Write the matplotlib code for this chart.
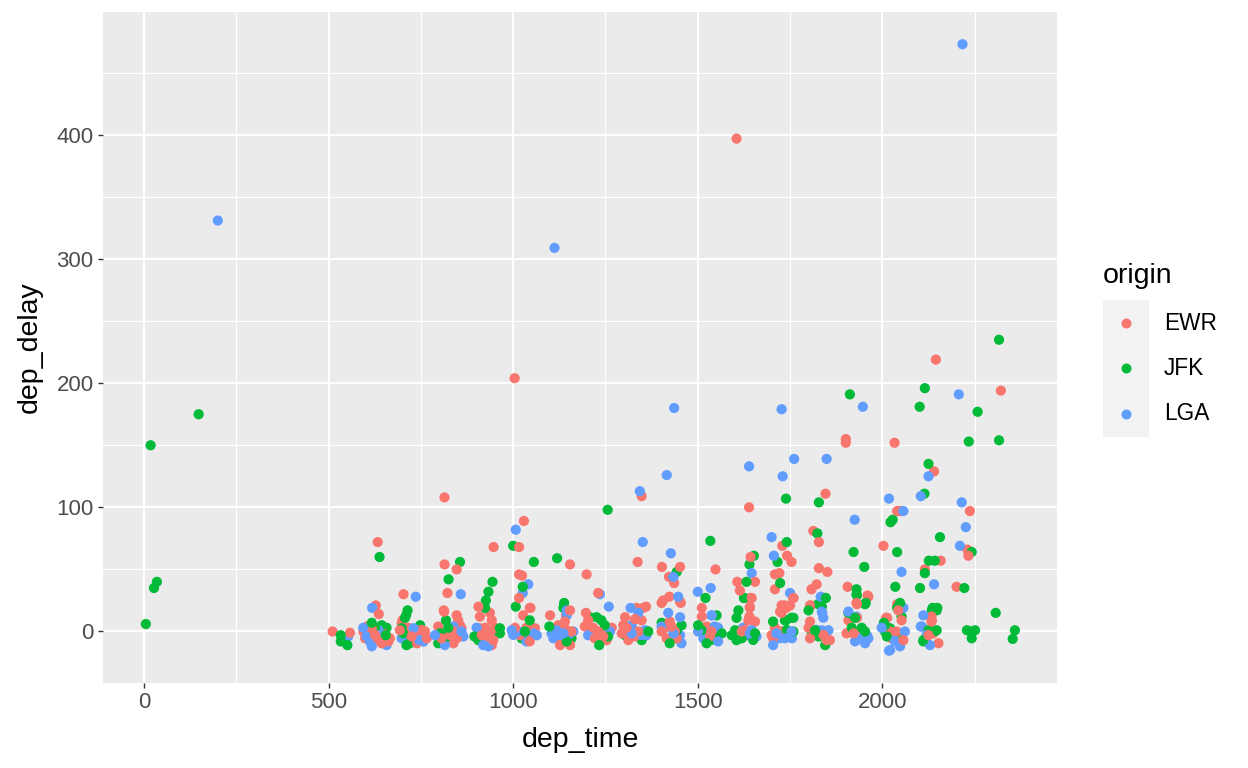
import matplotlib
matplotlib.use("Agg")
import matplotlib.pyplot as plt
from matplotlib.patches import Rectangle
from matplotlib.lines import Line2D

# ---------------- data (dep_time, dep_delay) ----------------
ewr_points = [
    (1605, 397), (2145, 219), (2321, 194), (1004, 204), (814, 108), (1901, 155), (1901, 152),
    (2033, 152), (2140, 129), (1348, 109), (1846, 111), (1639, 100), (2040, 97), (2048, 97),
    (2237, 97), (1029, 89), (1813, 81), (1828, 72), (1729, 69), (2003, 69), (1016, 68), (947, 68),
    (633, 72), (2230, 66), (2233, 61), (1742, 61), (1754, 56), (1643, 60), (1337, 56), (1154, 54),
    (814, 54), (2158, 57), (847, 50), (1548, 50), (1828, 51), (1851, 48), (1403, 52), (1452, 52),
    (1422, 44), (1436, 39), (1199, 46), (1016, 46), (1024, 45), (2115, 50), (1709, 46), (1721, 47),
    (1607, 40), (1614, 33), (1655, 40), (1709, 34), (1822, 38), (1808, 34), (1906, 36), (2201, 36),
    (822, 31), (1230, 31), (1960, 29), (1930, 23), (1759, 27), (1643, 27), (1016, 27), (703, 30),
    (628, 21), (636, 14), (906, 20), (910, 12), (937, 15), (942, 9), (1806, 21), (1641, 20),
    (1640, 12), (1727, 21), (1736, 21), (1723, 16), (1047, 19), (1100, 13), (1143, 13), (1197, 15),
    (1360, 20), (1334, 19), (1402, 23), (1423, 28), (1454, 23), (1511, 19), (1511, 12), (2040, 22),
    (2013, 11), (2043, 17), (2052, 9), (2010, 11), (2133, 12), (2133, 8), (812, 17), (847, 13),
    (851, 9), (700, 9),
    (511, 0), (558, -1),
    (603, 4), (608, -1.5), (626, -3), (648, -1.5), (599, -5.5), (635, -7), (644, -9.5), (666, -5.5),
    (594, 0), (617, 2.6), (662, -8),
    (698, 6.6), (693, 1), (716, 3), (734, 0), (725, -4), (748, -4), (761, 0), (766, -5.5), (739, -9.5),
    (752, 1.3), (707, -5.5),
    (813, 16), (856, 5), (797, 4), (838, 0), (847, -5.5), (838, -9.5), (806, -5.5), (829, -2.8), (860, 2.6),
    (924, 3), (915, -3), (937, -1.5), (928, -8), (946, -7), (951, 3), (910, 2.6), (928, -2.8), (942, -11),
    (1027, 13), (1045, 19), (1005, 3), (1036, 3), (1041, -5.5), (1045, -8), (1018, -3), (1059, 2.6),
    (1154, 17), (1140, 8), (1122, 5), (1131, -5.5), (1127, -11), (1154, -11), (1145, 1), (1158, 0),
    (1203, 9), (1194, 4), (1217, 3), (1230, 0), (1244, 1), (1257, -1.5), (1221, -5.5), (1253, -7), (1267, 3),
    (1244, -4),
    (1352, 19), (1303, 11.5), (1330, 10), (1348, 9), (1298, 5), (1307, 3), (1339, 0), (1312, -7), (1330, -4),
    (1316, -1.5), (1294, -1.5),
    (1406, 25), (1452, 24), (1424, 8), (1411, 3), (1429, 4), (1438, 0), (1416, -5.5), (1434, -4), (1402, 0),
    (1443, -5.5),
    (1524, 4), (1537, 0), (1533, -4), (1546, 0),
    (1646, 27), (1641, 19), (1637, 9), (1655, 8), (1619, 0), (1628, 1.3),
    (1740, 19), (1750, 21), (1727, 15), (1709, 3), (1700, -3), (1704, -5.5), (1759, 27), (1727, 0),
    (1804, 21), (1804, 8), (1800, 3), (1804, -5.5), (1849, -7), (1858, -7), (1840, -2.8),
    (1931, 22), (1962, 28), (1908, 9), (1931, 11), (1903, -1.5), (1940, -1.5), (1922, -1.5),
    (2021, 0), (2025, -5.5), (2057, -7), (2039, 0),
    (2134, 9), (2125, -3), (2152, -9.5), (2124, -2), (2138, -1.5),
]

jfk_points = [
    (5, 6), (18, 150), (27, 35), (35, 40), (148, 175),
    (2316, 235), (2115, 196), (1912, 191), (2101, 181), (2258, 177), (2234, 153), (2316, 154),
    (2125, 135), (1256, 98), (1739, 107), (1828, 104), (2114, 111), (2028, 90), (2022, 88),
    (2156, 76), (1534, 73), (1741, 72), (1824, 79), (1000, 69), (638, 60), (1056, 56), (1119, 59),
    (856, 56), (1716, 56), (1652, 61), (1640, 54), (1922, 64), (2040, 64), (2242, 64), (2126, 57),
    (2142, 57), (1951, 52), (1443, 48), (2115, 47), (825, 42), (944, 40), (933, 32), (926, 25),
    (924, 19), (1632, 40), (1723, 39), (1930, 34), (1930, 30), (2035, 36), (2102, 35), (2222, 35),
    (1026, 36), (1521, 27), (1625, 27), (1847, 27), (1826, 22), (1955, 23), (1138, 23), (2040, 19),
    (2136, 19), (2149, 19), (2307, 15), (2048, 23), (2052, 12), (2004, 7), (1754, 11), (1739, 9),
    (714, 17), (710, 13), (818, 9), (1007, 20),
    (533, -3), (533, -8), (551, -11),
    (617, 7), (644, 5), (657, 3), (655, -3), (626, 2.6),
    (707, 11), (748, 5), (702, -1.5), (720, -9.5), (752, -4), (711, -11), (698, 2.6),
    (802, -1.5), (824, 3), (820, -4), (797, -9.5), (833, -8.2),
    (895, -4), (964, -1.5), (906, -7), (964, 2.6),
    (1045, 9), (1023, -5.5), (1098, 4), (1032, 0),
    (1136, 19), (1158, -5.5), (1145, -8),
    (1208, 11.5), (1226, 11.5), (1239, 9), (1248, 5), (1239, -4), (1233, -11), (1257, -4),
    (1303, -3), (1348, -7), (1366, 0),
    (1402, 7), (1456, 5), (1424, -9.5), (1443, 1),
    (1551, 13), (1501, 5), (1510, 1), (1551, -3), (1524, -9.5), (1565, -1.5), (1537, -6.8),
    (1626, 27), (1610, 17), (1605, 11), (1601, 1), (1655, -1.5), (1619, -5.5), (1592, -3), (1605, -7),
    (1650, -6.8),
    (1736, 9), (1759, 11), (1704, 8), (1759, 0), (1741, 1.3),
    (1800, 17), (1845, 27), (1836, 20), (1818, 1), (1827, -4), (1845, -11), (1809, -1.5),
    (1931, 29), (1953, 22), (1908, 15), (1926, 11), (1917, 3), (1944, 3), (1953, 0),
    (2007, 5), (2007, 0), (2039, -1.5), (2012, -4), (2021, 2.6),
    (2134, 17), (2147, 17), (2125, 1), (2147, 1), (2111, -7), (2145, 0.6), (2111, -8),
    (2242, 0), (2229, 1), (2251, 1), (2242, -5.5), (2359, 1), (2353, -6),
]

lga_points = [
    (2217, 473), (200, 331), (1112, 309), (2207, 191), (1947, 181), (1436, 180), (1727, 179),
    (1761, 139), (1849, 139), (1639, 133), (1416, 126), (1730, 125), (2125, 125), (1343, 113),
    (2018, 107), (2104, 109), (2215, 104), (1925, 90), (1007, 82), (2057, 97), (2226, 84),
    (1700, 76), (2210, 69), (1351, 72), (1427, 63), (1706, 61), (2052, 48), (1646, 47), (1434, 44),
    (1041, 38), (2140, 38), (1026, 31), (1535, 35), (1750, 31), (1500, 32), (736, 28), (858, 30),
    (1235, 30), (1447, 28), (1833, 28), (618, 19), (1259, 20), (1318, 19), (1145, 17), (1837, 15),
    (1840, 11), (1538, 13), (2057, 19), (2111, 13), (1908, 16), (1930, 12), (2104, 4), (2129, -11),
    (2018, -15.5),
    (553, -4),
    (594, 3), (612, -8), (657, -11), (617, -12), (635, 1), (603, -4), (653, -5.5), (639, -2.8),
    (698, -5.5), (707, 0), (746, -7), (730, 2.6), (757, -8.2),
    (860, 0), (815, -11), (865, -4), (788, -3), (838, 4),
    (901, 3), (955, 0), (933, -12), (919, -11), (946, -4),
    (996, 1), (1014, 0), (1055, -1.5), (1064, -3), (1000, -2.8), (1036, -8),
    (1145, 13), (1117, 1), (1149, -3), (1163, 0), (1136, -1.5), (1104, -1.5), (1109, -5.5), (1127, -2.8),
    (1203, -3), (1262, 0), (1221, 0),
    (1339, 15), (1321, 5), (1357, 1), (1321, -1.5), (1361, -3), (1348, -2.8),
    (1420, 15), (1452, 11.5), (1452, -3), (1456, -9.5), (1434, -1.5), (1402, 4),
    (1537, 13), (1546, 4), (1555, 3), (1515, -5.5), (1555, -8), (1501, 0), (1528, -1.5),
    (1623, 3), (1646, 1), (1632, -3), (1659, -4), (1641, -1.5),
    (1722, -5.5), (1736, -5.5), (1704, -11), (1754, 0), (1755, -5.5), (1713, -1.5),
    (1836, 16), (1836, 1), (1854, 1), (1822, 1.3),
    (1958, -3), (1926, -8), (1953, -9.5), (1962, -5.5), (1940, -5.5),
    (1998, 3), (2061, 0), (2048, -12), (2021, -15), (2034, -8), (2030, -4),
    (2107, 4), (2120, -2.8),
]

origins = ["EWR", "JFK", "LGA"]
colors = {"EWR": "#F8766D", "JFK": "#00BA38", "LGA": "#619CFF"}
x_ticks = [0, 500, 1000, 1500, 2000]
y_ticks = [0, 100, 200, 300, 400]

# ---------------- figure ----------------
W, H = 1248, 768
fig = plt.figure(figsize=(W / 100, H / 100), dpi=100)
fig.patch.set_facecolor("white")
plt.rcParams["font.family"] = ["Liberation Sans", "DejaVu Sans"]

L, R, T, B = 103, 1057, 12, 683
ax = fig.add_axes([L / W, 1 - B / H, (R - L) / W, (B - T) / H])
ax.set_facecolor("#EBEBEB")

# combine and interleave the groups (deterministic order)
rows = []
for gi, (name, pts) in enumerate(zip(origins, [ewr_points, jfk_points, lga_points])):
    for i, (x, y) in enumerate(pts):
        rows.append((x, y, name, (i * 37 + gi * 11) % 53))
rows.sort(key=lambda r: r[3])
xs = [r[0] for r in rows]
ys = [r[1] for r in rows]
cs = [colors[r[2]] for r in rows]
ax.scatter(xs, ys, c=cs, s=54, linewidths=0, zorder=3)

ax.set_xlim(-111, 2473)
ax.set_ylim(-41.5, 499)

ax.set_xticks(x_ticks)
ax.set_yticks(y_ticks)
ax.set_xticks([250, 750, 1250, 1750, 2250], minor=True)
ax.set_yticks([50, 150, 250, 350, 450], minor=True)
ax.grid(which="major", color="white", linewidth=1.5, zorder=1)
ax.grid(which="minor", color="white", linewidth=0.75, zorder=1)
ax.set_axisbelow(True)
for s in ax.spines.values():
    s.set_visible(False)
ax.tick_params(which="major", length=3.8, width=1.0, color="#333333",
               labelsize=16, labelcolor="#4D4D4D", pad=3)
ax.tick_params(which="minor", length=0)

ax.set_xlabel("dep_time", fontsize=20.5, color="black")
ax.set_ylabel("dep_delay", fontsize=20.5, color="black")
ax.xaxis.label.set_va("center")
ax.yaxis.label.set_va("center")
ax.xaxis.set_label_coords(0.5, (B - 740) / (B - T))
ax.yaxis.set_label_coords((30 - L) / (R - L), 0.5)

# ---------------- legend ----------------
fig.text(1103 / W, 1 - 283 / H, "origin", fontsize=20.5, ha="left", va="baseline", color="black")
fig.patches.append(Rectangle((1103 / W, 1 - 437 / H), 46 / W, 137 / H,
                             transform=fig.transFigure, facecolor="#F2F2F2", edgecolor="none"))
key_y = [323, 368, 414]
for name, ky in zip(origins, key_y):
    fig.lines.append(Line2D([1126 / W], [1 - ky / H], marker="o", markersize=7.2,
                            markerfacecolor=colors[name], markeredgewidth=0,
                            linestyle="none", transform=fig.transFigure))
    fig.text(1164 / W, 1 - ky / H, name, fontsize=16.3, ha="left", va="center", color="black")

fig.savefig("out.png", dpi=100)
